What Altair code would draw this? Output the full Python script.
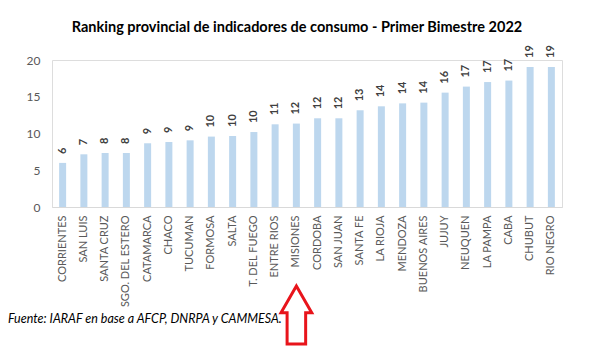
import altair as alt
import pandas as pd

provincias = ["CORRIENTES", "SAN LUIS", "SANTA CRUZ", "SGO. DEL ESTERO", "CATAMARCA",
              "CHACO", "TUCUMAN", "FORMOSA", "SALTA", "T. DEL FUEGO", "ENTRE RIOS",
              "MISIONES", "CORDOBA", "SAN JUAN", "SANTA FE", "LA RIOJA", "MENDOZA",
              "BUENOS AIRES", "JUJUY", "NEUQUEN", "LA PAMPA", "CABA", "CHUBUT", "RIO NEGRO"]
valores = [6.0, 7.17, 7.35, 7.35, 8.67, 8.84, 9.07, 9.58, 9.66, 10.2, 11.25, 11.35,
           12.07, 12.07, 13.16, 13.7, 14.1, 14.2, 15.56, 16.38, 17.0, 17.2, 19.05, 19.05]
etiquetas = ["6", "7", "8", "8", "9", "9", "9", "10", "10", "10", "11", "12",
             "12", "12", "13", "14", "14", "14", "16", "17", "17", "17", "19", "19"]
y_ticks = [0, 5, 10, 15, 20]
titulo = "Ranking provincial de indicadores de consumo - Primer Bimestre 2022"
fuente = "Fuente: IARAF en base a AFCP, DNRPA y CAMMESA."
destacado = "MISIONES"

df = pd.DataFrame({"provincia": provincias, "valor": valores, "etiqueta": etiquetas})

FONT = "Lato"
W, H = 510, 147

x = alt.X("provincia:N", sort=None, title=None,
          scale=alt.Scale(paddingOuter=0, paddingInner=0),
          axis=alt.Axis(labelAngle=-90, labelFont=FONT, labelFontSize=11,
                        labelColor="#595959", ticks=False, domainColor="#d9d9d9",
                        labelPadding=8, labelLimit=200))
y = alt.Y("valor:Q", title=None,
          scale=alt.Scale(domain=[0, 20], nice=False),
          axis=alt.Axis(values=y_ticks, grid=False, domain=False, ticks=False,
                        labelOverlap=False, labelFont=FONT, labelFontSize=12,
                        labelColor="#595959", labelPadding=12))

base = alt.Chart(df)
bars = base.mark_bar(size=7, color="#bdd7ee").encode(x=x, y=y)
labels = base.mark_text(angle=270, align="left", baseline="middle", dx=9,
                        font=FONT, fontSize=11, fontWeight="bold", color="#404040").encode(
    x=x, y=y, text="etiqueta:N")

title_df = pd.DataFrame({"t": [titulo]})
title_mark = alt.Chart(title_df).mark_text(font=FONT, fontSize=14.5, fontWeight="bold",
                                           color="#000000", align="center", baseline="middle").encode(
    x=alt.value(297 - 52), y=alt.value(28 - 60), text="t:N")

src_df = pd.DataFrame({"t": [fuente]})
src_mark = alt.Chart(src_df).mark_text(font=FONT, fontSize=12.5, fontStyle="italic",
                                       color="#000000", align="left", baseline="middle").encode(
    x=alt.value(8 - 52), y=alt.value(319 - 60), text="t:N")

arrow_df = pd.DataFrame({"provincia": [destacado]})
arrow_path = "M0,-1 L0.53,-0.08 L0.32,-0.08 L0.32,1 L-0.32,1 L-0.32,-0.08 L-0.53,-0.08 Z"
arrow = alt.Chart(arrow_df).mark_point(shape=arrow_path, size=3364, filled=False,
                                       stroke="#e8141b", strokeWidth=3, opacity=1).encode(
    x=x, y=alt.value(315 - 60))

chart = alt.layer(bars, labels, arrow, title_mark, src_mark).properties(
    width=W, height=H,
    autosize=alt.AutoSizeParams(type="none"),
    padding={"left": 44, "top": 52, "right": 19, "bottom": 147},
).configure_view(stroke=None).configure(background="white")

chart.save("out.html", embed_options={"renderer": "svg", "actions": False})
